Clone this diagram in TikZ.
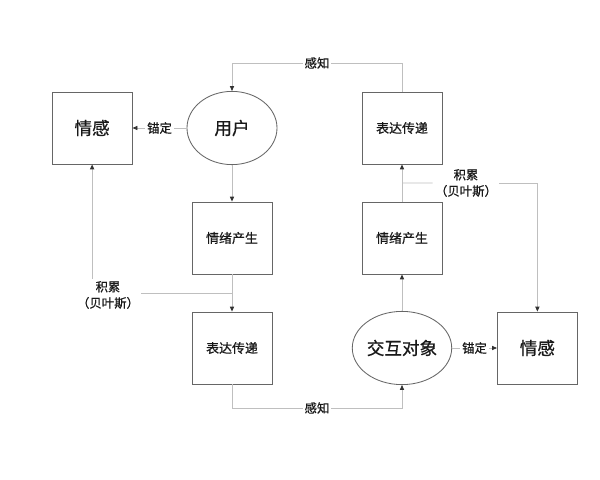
\documentclass[tikz,border=0pt]{standalone}
\usepackage{fontspec}
\setmainfont{Noto Sans CJK SC}[FakeBold=0.7]
\usetikzlibrary{positioning,calc,shapes.geometric,arrows.meta}

\begin{document}
\begin{tikzpicture}[x=0.025cm,y=-0.025cm,
					box/.style={draw=black!60, line width=0.6pt, rectangle, minimum width=2cm, minimum height=1.8cm, inner sep=2pt, text=black!90, font=\fontsize{9.2}{11}\selectfont},
					bigbox/.style={box, font=\fontsize{12.5}{15}\selectfont},
					ellip/.style={draw=black!60, line width=0.6pt, ellipse, minimum width=2.25cm, minimum height=1.83cm, inner sep=0pt, text=black!90, font=\fontsize{12.5}{15}\selectfont},
					conn/.style={draw=black!25, line width=0.6pt},
					arrow/.style={conn, -{Triangle[length=3.5pt,width=3pt,color=black!80]}},
					lbl/.style={fill=white, inner sep=1.5pt, align=center, text=black!90, font=\fontsize{8.8}{11.5}\selectfont}]
					\useasboundingbox (0,0) rectangle (600,480);
					\node[ellip] (user) at (232,128) {用户};
					\node[bigbox, left=1.35cm of user] (emoL) {情感};
					\node[box] (repR) at (402,128) {表达传递};
					\node[box] (genL) at (232,238) {情绪产生};
					\node[box] (genR) at (402,238) {情绪产生};
					\node[box] (repL) at (232,348) {表达传递};
					\node[ellip] (inter) at (402,348) {交互对象};
					\node[bigbox, right=1.12cm of inter] (emoR) {情感};
					
					\draw[arrow] (user) -- node[lbl] {锚定} (emoL);
					\draw[arrow] (inter) -- node[lbl] {锚定} (emoR);
					\draw[arrow] (user) -- (genL);
					\draw[arrow] (genL) -- (repL);
					\draw[arrow] (inter) -- (genR);
					\draw[arrow] (genR) -- (repR);
					
					% perception loops
					\coordinate (top) at (0,63);
					\coordinate (bot) at (0,408);
					\draw[arrow] (repR.north) -- (repR.north |- top) -- node[lbl] {感知} (user.north |- top) -- (user.north);
					\draw[arrow] (repL.south) -- (repL.south |- bot) -- node[lbl] {感知} (inter.south |- bot) -- (inter.south);
					
					% accumulation
					\coordinate (accL) at ($(genL.south)!0.5!(repL.north)$);
					\coordinate (accR) at ($(genR.north)!0.5!(repR.south)$);
					\node[lbl] (cumL) at (108,295) {积累\\（贝叶斯）};
					\node[lbl] (cumR) at (466,183) {积累\\（贝叶斯）};
					\draw[conn] (accL) -- (cumL.east |- accL);
					\draw[arrow] (cumL.north -| emoL.south) -- (emoL.south);
					\draw[conn] (accR) -- (cumR.west);
					\draw[arrow] (cumR.east) -| (emoR.north);
				\end{tikzpicture}
\end{document}
